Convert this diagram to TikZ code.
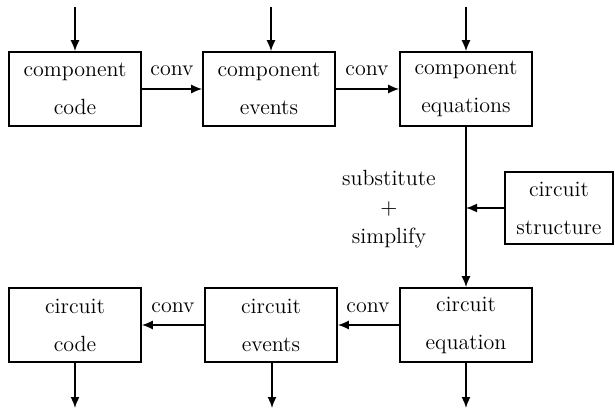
\documentclass[tikz,border=0pt]{standalone}
\usetikzlibrary{arrows.meta}
\begin{document}
\begin{tikzpicture}[x=0.5pt,y=-0.5pt,
  box/.style={draw, line width=0.8pt, minimum width=66pt, minimum height=37pt, inner sep=0pt, align=center, font=\fontsize{11}{19}\selectfont},
  lbl/.style={font=\fontsize{11}{14.5}\selectfont, inner sep=0pt, align=center},
  arr/.style={line width=0.8pt, -{Latex[length=5.5pt,width=4.5pt]}}]
\useasboundingbox (0,0) rectangle (615,411);
% top row
\node[box] (cc) at (75,89) {component\\code};
\node[box] (ce) at (269,89) {component\\events};
\node[box] (cq) at (466,89) {component\\equations};
% circuit structure
\node[box, minimum width=54pt, minimum height=36pt] (cs) at (559,208) {circuit\\structure};
% bottom row
\node[box] (bco) at (75,325) {circuit\\code};
\node[box] (bev) at (271,325) {circuit\\events};
\node[box] (beq) at (466,325) {circuit\\equation};
% labels
\node[lbl] (l1) at (172,71) {conv};
\node[lbl] (l2) at (367,71) {conv};
\node[lbl] (l3) at (173,308) {conv};
\node[lbl] (l4) at (368,308) {conv};
\node[lbl] (sub) at (389,209) {substitute\\$+$\\simplify};
% inputs
\coordinate (i1) at (75,7);
\coordinate (i2) at (271,7);
\coordinate (i3) at (466,7);
\draw[arr] (i1) -- (cc);
\draw[arr] (i2) -- (ce.north -| i2);
\draw[arr] (i3) -- (cq);
% outputs
\coordinate (o1) at (75,408);
\coordinate (o2) at (272,408);
\coordinate (o3) at (466,408);
\draw[arr] (bco) -- (o1);
\draw[arr] (bev.south -| o2) -- (o2);
\draw[arr] (beq) -- (o3);
% conversions
\draw[arr] (cc) -- (ce);
\draw[arr] (ce) -- (cq);
\draw[arr] (beq) -- (bev);
\draw[arr] (bev) -- (bco);
% substitute
\draw[arr] (cq) -- (beq);
\draw[arr] (cs) -- (cs -| cq);
\end{tikzpicture}
\end{document}
